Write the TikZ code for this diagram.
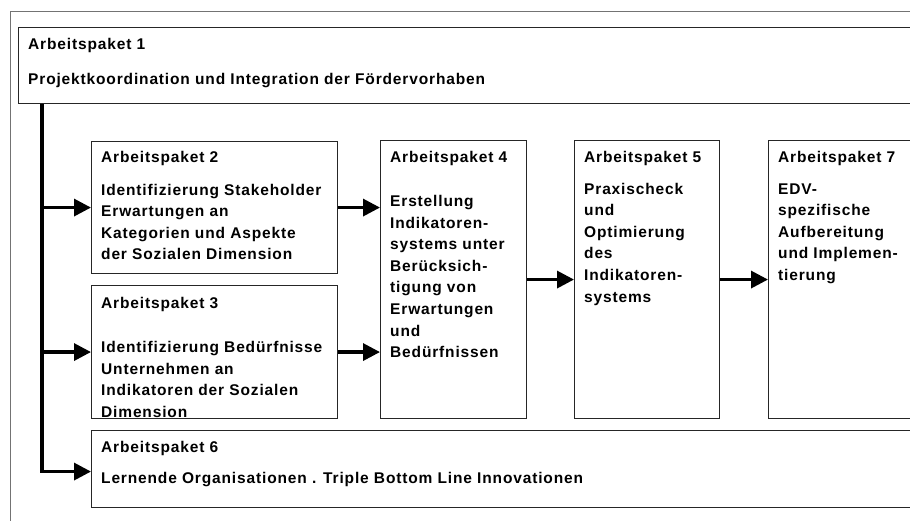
\documentclass[tikz,border=0pt]{standalone}
\usepackage{fontspec}
\setmainfont{Liberation Sans}[LetterSpace=5.5]
\usepackage{tikz}
\usetikzlibrary{arrows.meta}

\begin{document}
\begin{tikzpicture}[x=1pt, y=-1pt,
                        box/.style={draw=black!85, line width=1.1pt, anchor=north west, inner sep=0pt},
                        txt/.style={anchor=north west, align=left, inner sep=0pt,
                                    font=\bfseries\fontsize{15.5}{21.6}\selectfont},
                        arr/.style={line width=3.3pt, -{Triangle[length=17pt,width=17pt]}}]
      \useasboundingbox (0,0) rectangle (910,520);
      \clip (0,0) rectangle (910,520);

      \node[box, draw=black!55, line width=.9pt, minimum width=920pt, minimum height=530pt] (frame) at (10,11) {};
      \node[box, minimum width=912pt, minimum height=76pt] (ap1) at (18,27) {};
      \node[box, minimum width=246pt, minimum height=132pt] (ap2) at (91,141) {};
      \node[box, minimum width=246pt, minimum height=133pt] (ap3) at (91,285) {};
      \node[box, minimum width=146pt, minimum height=278pt] (ap4) at (380,140) {};
      \node[box, minimum width=145pt, minimum height=278pt] (ap5) at (574,140) {};
      \node[box, minimum width=162pt, minimum height=278pt] (ap7) at (768,140) {};
      \node[box, minimum width=839pt, minimum height=77pt] (ap6) at (91,430) {};
      \coordinate (bus) at (42,104);

      \node[txt] (ap1t) at ([xshift=10pt,yshift=-11pt]ap1.north west)
        {Arbeitspaket 1\\[13.4pt]Projektkoordination und Integration der Fördervorhaben};
      \node[txt] (ap2t) at ([xshift=10pt,yshift=-10pt]ap2.north west)
        {Arbeitspaket 2\\[11pt]Identifizierung Stakeholder\\Erwartungen an\\Kategorien und Aspekte\\der Sozialen Dimension};
      \node[txt] (ap3t) at ([xshift=10pt,yshift=-12pt]ap3.north west)
        {Arbeitspaket 3\\[22.4pt]Identifizierung Bedürfnisse\\Unternehmen an\\Indikatoren der Sozialen\\Dimension};
      \node[txt] (ap4t) at ([xshift=10pt,yshift=-11pt]ap4.north west)
        {Arbeitspaket 4\\[22.4pt]Erstellung\\Indikatoren-\\systems unter\\Berücksich-\\tigung von\\Erwartungen\\und\\Bedürfnissen};
      \node[txt] (ap5t) at ([xshift=10pt,yshift=-11pt]ap5.north west)
        {Arbeitspaket 5\\[10pt]Praxischeck\\und\\Optimierung\\des\\Indikatoren-\\systems};
      \node[txt] (ap7t) at ([xshift=10pt,yshift=-11pt]ap7.north west)
        {Arbeitspaket 7\\[10pt]EDV-\\spezifische\\Aufbereitung\\und Implemen-\\tierung};
      \node[txt] (ap6t) at ([xshift=10pt,yshift=-11.5pt]ap6.north west)
        {Arbeitspaket 6\\[9.4pt]Lernende Organisationen . Triple Bottom Line Innovationen};

      \draw[arr] (bus) |- ([yshift=-2.5pt]ap6.west);
      \draw[arr] (bus |- ap2.west) -- (ap2.west);
      \draw[arr] (bus |- ap3.west) -- (ap3.west);
      \draw[arr] (ap2.east) -- (ap4.west |- ap2.east);
      \draw[arr] (ap3.east) -- (ap4.west |- ap3.east);
      \draw[arr] (ap4.east) -- (ap5.west);
      \draw[arr] (ap5.east) -- (ap7.west);
    \end{tikzpicture}
\end{document}
